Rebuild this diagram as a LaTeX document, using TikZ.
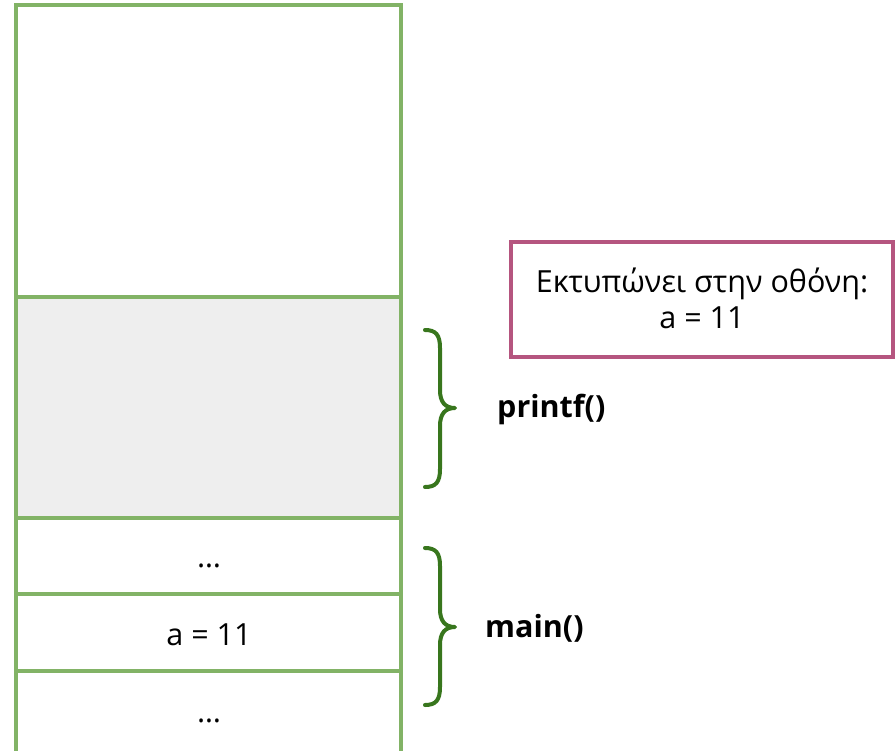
\documentclass[tikz,border=0pt]{standalone}
\usepackage{fontspec}
\setmainfont{Open Sans}
\definecolor{stackline}{HTML}{82B366}
\definecolor{bracegreen}{HTML}{38761D}
\definecolor{notepink}{HTML}{B5557F}
\definecolor{framefill}{HTML}{EEEEEE}
\begin{document}
\begin{tikzpicture}[x=1pt,y=-1pt,
  cellline/.style={draw=stackline,line width=3.5pt},
  bracepath/.style={draw=bracegreen,line width=4pt,line cap=round,line join=round},
  celltext/.style={font=\fontsize{30.5}{36}\selectfont,anchor=base,inner sep=0pt},
  fnlabel/.style={font=\fontsize{30.5}{36}\selectfont\bfseries,anchor=base west,inner sep=0pt},
  notebox/.style={draw=notepink,line width=3.5pt,fill=white}]
\useasboundingbox (0,0) rectangle (896,750);
\clip (0,0) rectangle (896,750);
% printf() frame
\fill[framefill] (16,297) rectangle (401,518);
% stack outline and cell borders
\draw[cellline] (16,770) -- (16,5) -- (401,5) -- (401,770);
\draw[cellline] (16,297) -- (401,297);
\draw[cellline] (16,518) -- (401,518);
\draw[cellline] (16,594) -- (401,594);
\draw[cellline] (16,671) -- (401,671);
% cell contents
\node[celltext] (dotsA) at (209,567) {…};
\node[celltext] (aval) at (209,645) {a = 11};
\node[celltext] (dotsB) at (209,722) {…};
% braces
\draw[bracepath] (425,330) .. controls (436,330) and (440,335) .. (440,348)
  -- (440,390) .. controls (440,402) and (445,408) .. (455,408)
  .. controls (445,408) and (440,414) .. (440,426)
  -- (440,469) .. controls (440,482) and (436,487) .. (425,487);
\draw[bracepath] (425,548) .. controls (436,548) and (440,553) .. (440,566)
  -- (440,609) .. controls (440,621) and (445,627) .. (455,627)
  .. controls (445,627) and (440,633) .. (440,645)
  -- (440,687) .. controls (440,700) and (436,705) .. (425,705);
\node[fnlabel] (printf) at (497,417) {printf()};
\node[fnlabel] (main) at (485,637) {main()};
% output note
\draw[notebox] (511,242) rectangle (893,357);
\node[celltext] (note1) at (702,292) {Εκτυπώνει στην οθόνη:};
\node[celltext] (note2) at (702,328) {a = 11};
\end{tikzpicture}
\end{document}
